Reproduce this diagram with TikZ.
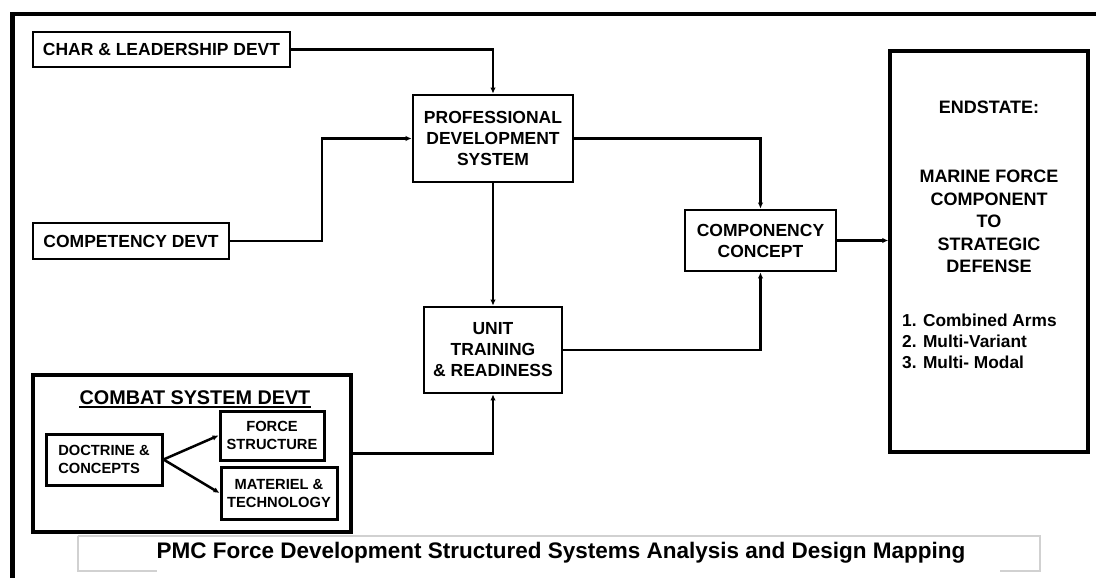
\documentclass[tikz,border=0pt]{standalone}
\usepackage{fontspec}
\setmainfont{Liberation Sans}
\usetikzlibrary{arrows.meta}
\begin{document}
\begin{tikzpicture}[x=1pt,y=-1pt,
  box/.style={draw, line width=2.8pt, fill=white, inner sep=0pt, align=center,
    font=\bfseries\fontsize{17.5}{21}\selectfont},
  smallbox/.style={box, line width=3pt, font=\bfseries\fontsize{14.7}{18}\selectfont},
  conn/.style={line width=2.5pt, -{Latex[length=6pt,width=5.5pt]}},
  capline/.style={line width=1.2pt, draw=black!18},
  plain/.style={inner sep=0pt, align=center, font=\bfseries\fontsize{18}{22.4}\selectfont}
]
\useasboundingbox (0,0) rectangle (1096,578);
\fill[white] (0,0) rectangle (1096,578);
% outer frame
\draw[line width=4.5pt, line join=miter] (12.5,582) -- (12.5,14) -- (1100,14);

% nodes
\node[box, minimum width=257pt, minimum height=35pt] (char) at (161.5,49.5) {CHAR \& LEADERSHIP DEVT};
\node[box, minimum width=196pt, minimum height=36pt] (comp) at (131,241) {COMPETENCY DEVT};
\node[box, minimum width=160pt, minimum height=87pt] (pds) at (493,138.5) {PROFESSIONAL\\DEVELOPMENT\\SYSTEM};
\node[box, minimum width=151pt, minimum height=61pt] (cc) at (760.5,240.5) {COMPONENCY\\CONCEPT};
\node[box, minimum width=138pt, minimum height=86pt] (utr) at (493,350) {UNIT\\TRAINING\\\& READINESS};
\node[box, line width=3.5pt, minimum width=198pt, minimum height=401pt] (end) at (989,251.5) {};
\node[plain] (es) at (989,107) {ENDSTATE:};
\node[plain] (mf) at (989,221.5) {MARINE FORCE\\COMPONENT\\TO\\STRATEGIC\\DEFENSE};
\node[plain, align=left, anchor=west, font=\bfseries\fontsize{17.3}{21}\selectfont] (list) at (902,341) {1. Combined Arms\\2. Multi-Variant\\3. Multi- Modal};

% combat system
\node[box, line width=3.5pt, minimum width=318pt, minimum height=157pt] (combat) at (192,453.5) {};
\node[plain, anchor=base, font=\bfseries\fontsize{19.8}{24}\selectfont] (cst) at (195,404) {COMBAT SYSTEM DEVT};
\draw[line width=1.8pt] ([yshift=-3pt]cst.base west) -- ([yshift=-3pt]cst.base east);
\node[smallbox, align=left, minimum width=116pt, minimum height=51pt] (doc) at (104,459.5) {DOCTRINE \&\\CONCEPTS};
\node[smallbox, minimum width=104pt, minimum height=49pt] (fs) at (272,435.5) {FORCE\\STRUCTURE};
\node[smallbox, minimum width=116pt, minimum height=52pt] (mt) at (279,493) {MATERIEL \&\\TECHNOLOGY};

% connectors
\draw[conn] (char.east) -| (pds.north);
\draw[conn] (comp.east) -- (322,241) |- (pds.west);
\draw[conn] (pds.east) -| (cc.north);
\draw[conn] (pds.south) -- (utr.north);
\draw[conn] (utr.east) -| (cc.south);
\draw[conn] (cc.east) -- (end.west |- cc.east);
\draw[conn] (combat.east) -| (utr.south);
\draw[conn] (doc.east) -- (fs.west);
\draw[conn] (doc.east) -- (mt.west);

% caption
\draw[capline] (78,536) -- (78,571) -- (157,571);
\draw[capline] (78,536) -- (1040,536) -- (1040,571) -- (1000,571);
\node[plain, font=\bfseries\fontsize{22.5}{26}\selectfont] (cap) at (561,553) {PMC Force Development Structured Systems Analysis and Design Mapping};
\end{tikzpicture}
\end{document}
